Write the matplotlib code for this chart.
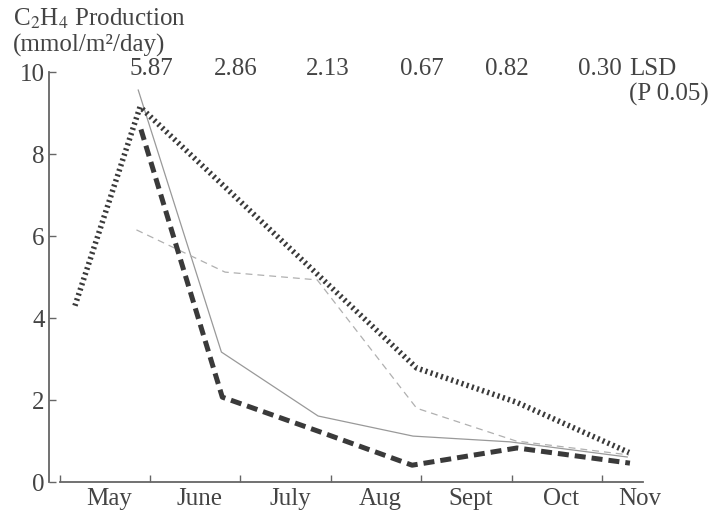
import matplotlib
matplotlib.use("Agg")
import matplotlib.pyplot as plt
import numpy as np

plt.rcParams['font.family'] = ['Liberation Serif', 'DejaVu Serif']
plt.rcParams['mathtext.fontset'] = 'stix'

# months as intervals: tick k = start of month k (0 = May)
months = ["May", "June", "July", "Aug", "Sept", "Oct", "Nov"]

# C2H4 production, x in months from 1 May
dotted_x = [0.17, 0.89, 2.86, 3.95, 5.05, 6.30]
dotted_y = [4.30, 9.15, 5.05, 2.78, 1.95, 0.72]

heavy_dash_x = [0.90, 1.80, 2.86, 3.90, 5.06, 6.31]
heavy_dash_y = [8.60, 2.07, 1.24, 0.41, 0.83, 0.46]

solid_x = [0.87, 1.79, 2.86, 3.91, 4.98, 6.28]
solid_y = [9.56, 3.17, 1.61, 1.12, 0.98, 0.61]

thin_dash_x = [0.85, 1.83, 2.85, 3.95, 5.05, 6.30]
thin_dash_y = [6.15, 5.12, 4.93, 1.80, 1.00, 0.66]

# LSD (P 0.05) values written above the plot
lsd_vals = ["5.87", "2.86", "2.13", "0.67", "0.82", "0.30"]
lsd_x = [1.02, 1.95, 2.97, 4.01, 4.95, 5.98]

txt = '#444444'
fs = 18
fig = plt.figure(figsize=(7.17, 5.13), dpi=100)
ax = fig.add_axes([0.068, 0.0604, 0.829, 0.7992])

ax.plot(solid_x, solid_y, c='#999999', lw=0.9)
ax.plot(thin_dash_x, thin_dash_y, c='#b0b0b0', lw=0.9, ls=(0, (5.5, 4)))
ax.plot(heavy_dash_x, heavy_dash_y, c='#3a3a3a', lw=3.6,
        ls=(0, (2.2, 1.2)), dash_capstyle='butt')
ax.plot(dotted_x, dotted_y, c='#3a3a3a', lw=4.0,
        ls=(0, (0.38, 0.6)), dash_capstyle='butt')

ax.set_xlim(-0.12, 6.456)
ax.set_ylim(0, 10)
for s in ['top', 'right']:
    ax.spines[s].set_visible(False)
for s in ['left', 'bottom']:
    ax.spines[s].set_color('#666666')
    ax.spines[s].set_linewidth(1.3)
ax.spines['bottom'].set_bounds(0, 6.456)

ax.set_yticks([0, 2, 4, 6, 8, 10])
ax.set_xticks(range(7))
ax.set_xticklabels([])
ax.tick_params(direction='in', length=5, width=1, color='#666666',
               labelsize=fs, labelcolor=txt)
ax.tick_params(axis='y', pad=3)

mx = np.arange(7) + 0.55
mx[-1] = 6.42
for x, m in zip(mx, months):
    ax.annotate(m, (x, 0), xytext=(0, -4), textcoords='offset points',
                ha='center', va='top', fontsize=fs, color=txt,
                annotation_clip=False)

for x, v in zip(lsd_x, lsd_vals):
    ax.annotate(v, (x, 10), xytext=(0, 2), textcoords='offset points',
                ha='center', va='center', fontsize=fs, color=txt,
                annotation_clip=False)
ax.annotate("LSD\n(P 0.05)", (6.3, 10), xytext=(0, 10), textcoords='offset points',
            ha='left', va='top', fontsize=fs, color=txt, linespacing=1.15,
            annotation_clip=False)

fig.text(0.018, 0.963, "C$_2$H$_4$ Production", ha='left', va='center',
         fontsize=fs, color=txt)
fig.text(0.018, 0.912, "(mmol/m²/day)", ha='left', va='center',
         fontsize=fs, color=txt)

fig.savefig("out.png", dpi=100)
